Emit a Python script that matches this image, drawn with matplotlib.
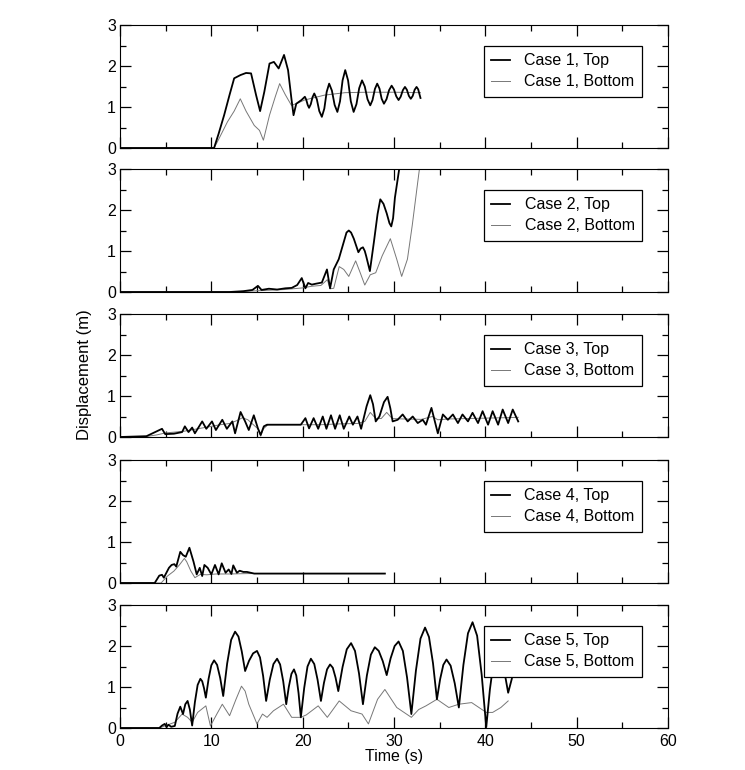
import matplotlib
matplotlib.use("Agg")
import matplotlib.pyplot as plt
from matplotlib.ticker import MultipleLocator

plt.rcParams['font.family'] = ['Liberation Sans', 'DejaVu Sans']

# ---------------- data ----------------
case_names = ["Case 1", "Case 2", "Case 3", "Case 4", "Case 5"]
x_ticks = [0, 10, 20, 30, 40, 50, 60]
y_ticks = [0, 1, 2, 3]

c1_top_t = [0, 10.3, 10.8, 11.4, 12.0, 12.5, 13.2, 13.8, 14.35, 14.9, 15.34, 15.8, 16.37, 16.85, 17.37,
            17.96, 18.4, 18.77, 19.0, 19.3, 19.87, 20.24, 20.39, 20.55, 20.7, 20.89, 21.08, 21.27,
            21.55, 21.82, 22.1, 22.37, 22.63, 22.9, 23.2, 23.5, 23.8, 24.09, 24.37, 24.66,
            24.97, 25.27, 25.58, 25.89, 26.19, 26.5, 26.8, 27.1, 27.4, 27.65, 27.91, 28.16,
            28.41, 28.65, 28.9, 29.18, 29.46, 29.74, 29.99, 30.25, 30.5, 30.73, 30.97, 31.2,
            31.41, 31.63, 31.84, 32.05, 32.26, 32.47, 32.65, 32.8, 32.9]
c1_top_v = [0, 0, 0.35, 0.8, 1.3, 1.7, 1.78, 1.83, 1.82, 1.29, 0.9, 1.37, 2.06, 2.1, 1.94,
            2.27, 1.9, 1.2, 0.8, 1.08, 1.17, 1.25, 1.18, 1.05, 0.98, 1.07, 1.24, 1.33,
            1.19, 0.9, 0.76, 0.96, 1.37, 1.57, 1.4, 1.05, 0.88, 1.14, 1.65, 1.9,
            1.65, 1.14, 0.88, 1.07, 1.46, 1.65, 1.5, 1.19, 1.04, 1.17, 1.44, 1.57,
            1.45, 1.2, 1.08, 1.19, 1.41, 1.52, 1.43, 1.26, 1.17, 1.25, 1.41, 1.49,
            1.42, 1.27, 1.2, 1.27, 1.42, 1.49, 1.43, 1.3, 1.22]
c1_bot_t = [0, 10.3, 10.66, 11.77, 12.5, 13.17, 13.8, 14.7, 15.27, 15.7, 16.37, 17.0, 17.48, 18.1,
            18.77, 19.5, 20.2, 22.4, 24.66, 27.0, 30.0, 32.9]
c1_bot_v = [0, 0, 0.15, 0.64, 0.9, 1.2, 0.9, 0.55, 0.43, 0.19, 0.8, 1.25, 1.57, 1.3,
            1.04, 1.1, 1.17, 1.29, 1.35, 1.36, 1.36, 1.35]

c2_top_t = [0, 12, 13.5, 14.5, 15.1, 15.5, 16.3, 17.2, 18.1, 18.8, 19.4, 19.9, 20.3, 20.6, 21.0, 21.4,
            22.1, 22.66, 23.0, 23.4, 23.95, 24.5, 24.8, 25.05, 25.3, 25.6, 26.1, 26.35, 26.6, 26.8,
            26.95, 27.36, 27.8, 28.2, 28.5, 28.85, 29.2, 29.5, 29.7, 29.9, 30.1, 30.55, 30.9]
c2_top_v = [0, 0, 0.02, 0.05, 0.15, 0.05, 0.08, 0.06, 0.09, 0.1, 0.17, 0.34, 0.09, 0.22, 0.18, 0.2,
            0.23, 0.55, 0.09, 0.55, 0.8, 1.22, 1.45, 1.5, 1.45, 1.3, 0.97, 1.06, 1.09, 1.0,
            0.88, 0.51, 1.22, 1.9, 2.26, 2.15, 1.92, 1.68, 1.6, 1.8, 2.3, 2.97, 3.4]
c2_bot_t = [0, 12, 14, 16, 18, 20, 21, 22, 22.7, 23.0, 23.4, 24.0, 24.5, 25.05, 25.8, 26.3, 26.8,
            27.4, 28.0, 28.7, 29.6, 30.3, 30.84, 31.47, 32.0, 32.57, 32.9]
c2_bot_v = [0, 0, 0.02, 0.04, 0.06, 0.1, 0.14, 0.16, 0.3, 0.08, 0.09, 0.62, 0.55, 0.38, 0.76, 0.47, 0.17,
            0.42, 0.47, 0.88, 1.3, 0.8, 0.38, 0.8, 1.63, 2.63, 3.2]

c3_top_t = [0, 2.9, 4.6, 4.95, 5.9, 6.8, 7.1, 7.5, 7.9, 8.2, 9.0, 9.45, 10.07, 10.5, 11.2, 11.7, 12.3,
            12.6, 13.2, 13.7, 14.1, 14.65, 15.1, 15.4, 15.75, 16.1, 18.3, 19.8, 20.3, 20.7, 21.2, 21.7,
            22.2, 22.6, 23.1, 23.55, 24.06, 24.5, 25.1, 25.5, 26.0, 26.4, 27.0, 27.4, 27.7, 28.0,
            28.4, 28.9, 29.3, 29.6, 29.85, 30.4, 30.95, 31.5, 32.05, 32.6, 33.15, 33.5, 34.1, 34.8,
            35.35, 35.9, 36.45, 37.0, 37.5, 38.1, 38.6, 39.2, 39.7, 40.3, 40.8, 41.4, 41.9, 42.5,
            43.0, 43.6]
c3_top_v = [0, 0.02, 0.2, 0.07, 0.08, 0.12, 0.26, 0.12, 0.23, 0.09, 0.38, 0.2, 0.38, 0.17, 0.42, 0.2, 0.38,
            0.09, 0.61, 0.38, 0.17, 0.53, 0.21, 0.05, 0.26, 0.3, 0.3, 0.3, 0.46, 0.21, 0.46, 0.2,
            0.5, 0.2, 0.53, 0.2, 0.53, 0.2, 0.5, 0.3, 0.5, 0.2, 0.75, 1.02, 0.8, 0.38,
            0.5, 0.85, 0.98, 0.7, 0.38, 0.42, 0.55, 0.38, 0.5, 0.34, 0.42, 0.3, 0.71, 0.09,
            0.55, 0.42, 0.55, 0.34, 0.55, 0.38, 0.59, 0.34, 0.63, 0.3, 0.63, 0.3, 0.67, 0.34,
            0.67, 0.38]
c3_bot_t = [0, 2.5, 4, 5, 6, 7, 8, 9, 10, 11, 12, 12.8, 13.4, 14, 14.6, 15.1, 15.4, 15.7, 16.2, 19, 22,
            24, 26, 26.8, 27.4, 28.0, 28.6, 29.2, 29.8, 31, 33, 34.2, 34.8, 36, 38, 40, 42, 43.6]
c3_bot_v = [0, 0, 0.05, 0.1, 0.12, 0.14, 0.18, 0.22, 0.26, 0.3, 0.33, 0.4, 0.47, 0.42, 0.3, 0.2, 0.02,
            0.2, 0.3, 0.3, 0.3, 0.32, 0.33, 0.38, 0.6, 0.45, 0.45, 0.6, 0.45, 0.44, 0.43, 0.5, 0.42,
            0.44, 0.45, 0.46, 0.47, 0.48]

c4_top_t = [0, 3.8, 4.3, 4.6, 4.8, 5.36, 5.65, 5.95, 6.16, 6.6, 6.9, 7.2, 7.6, 8.05, 8.4, 8.73, 9.0, 9.24,
            9.6, 10.0, 10.4, 10.8, 11.14, 11.56, 11.9, 12.2, 12.4, 12.8, 13.1, 13.5, 13.9, 14.7, 29.0]
c4_top_v = [0, 0, 0.18, 0.2, 0.13, 0.37, 0.44, 0.46, 0.4, 0.76, 0.68, 0.64, 0.86, 0.52, 0.21, 0.37, 0.17,
            0.44, 0.37, 0.21, 0.44, 0.21, 0.48, 0.25, 0.33, 0.22, 0.43, 0.25, 0.3, 0.27, 0.27, 0.23, 0.23]
c4_bot_t = [0, 4.5, 5.2, 5.9, 6.5, 7.05, 7.3, 7.76, 8.2, 8.8, 9.5, 10.5, 12, 14, 29.0]
c4_bot_v = [0, 0, 0.17, 0.29, 0.44, 0.6, 0.52, 0.29, 0.13, 0.21, 0.2, 0.22, 0.22, 0.23, 0.23]

c5_top_t = [0, 4.3, 4.6, 4.9, 5.1, 5.3, 5.6, 6.0, 6.3, 6.6, 6.9, 7.15, 7.4, 7.65, 7.9,
            8.2, 8.5, 8.8, 9.0, 9.2, 9.4, 9.7, 10.0, 10.3, 10.63, 10.97, 11.3,
            11.73, 12.17, 12.6, 12.97, 13.33, 13.7, 14.13, 14.57, 15.0, 15.33, 15.67, 16.0,
            16.4, 16.8, 17.2, 17.53, 17.87, 18.2, 18.48, 18.77, 19.05, 19.3, 19.55, 19.8,
            20.17, 20.53, 20.9, 21.27, 21.63, 22.0, 22.33, 22.67, 23.0, 23.3, 23.6, 23.9,
            24.37, 24.83, 25.3, 25.73, 26.17, 26.6, 27.03, 27.47, 27.9, 28.33, 28.77, 29.2,
            29.63, 30.07, 30.5, 30.97, 31.43, 31.9, 32.4, 32.9, 33.4, 33.83, 34.27, 34.7,
            35.05, 35.4, 35.75, 36.2, 36.65, 37.1, 37.6, 38.1, 38.6, 39.1, 39.6, 40.1,
            40.5, 40.9, 41.3, 41.7, 42.1, 42.5, 42.9]
c5_top_v = [0, 0, 0.06, 0.1, 0.02, 0.08, 0.03, 0.05, 0.35, 0.52, 0.34, 0.58, 0.66, 0.45, 0.06,
            0.63, 1.05, 1.2, 1.14, 0.97, 0.74, 1.2, 1.53, 1.65, 1.54, 1.22, 0.78,
            1.57, 2.15, 2.35, 2.23, 1.87, 1.39, 1.64, 1.82, 1.88, 1.72, 1.27, 0.66,
            1.18, 1.56, 1.69, 1.55, 1.14, 0.58, 1.0, 1.32, 1.43, 1.28, 0.85, 0.26,
            0.98, 1.5, 1.69, 1.56, 1.18, 0.66, 1.1, 1.43, 1.55, 1.47, 1.23, 0.9,
            1.49, 1.92, 2.07, 1.88, 1.33, 0.58, 1.28, 1.79, 1.97, 1.88, 1.63, 1.29,
            1.7, 2.0, 2.11, 1.88, 1.23, 0.34, 1.4, 2.18, 2.45, 2.22, 1.58, 0.7,
            1.19, 1.54, 1.67, 1.52, 1.09, 0.5, 1.54, 2.31, 2.58, 2.25, 1.3, 0.02,
            0.94, 1.61, 1.85, 1.72, 1.36, 0.86, 1.2]
c5_bot_t = [0, 4.3, 4.9, 6.0, 6.8, 7.4, 7.9, 8.5, 9.4, 9.9, 10.6, 11.2, 12.0, 12.7, 13.3, 13.7, 14.1,
            15.0, 15.6, 16.1, 16.8, 17.9, 18.8, 19.8, 20.4, 21.7, 22.7, 24.0, 25.3, 26.5, 27.2, 28.2,
            29.0, 30.3, 31.9, 32.7, 33.5, 34.7, 36.0, 37.1, 38.5, 40.1, 40.8, 41.7, 42.5]
c5_bot_v = [0, 0, 0.05, 0.14, 0.34, 0.26, 0.14, 0.38, 0.54, 0.05, 0.34, 0.58, 0.3, 0.7, 1.02, 0.9, 0.58,
            0.1, 0.34, 0.26, 0.42, 0.58, 0.26, 0.26, 0.32, 0.54, 0.26, 0.66, 0.42, 0.34, 0.1, 0.7,
            0.94, 0.5, 0.26, 0.45, 0.54, 0.7, 0.5, 0.58, 0.62, 0.38, 0.38, 0.5, 0.66]

top_t = [c1_top_t, c2_top_t, c3_top_t, c4_top_t, c5_top_t]
top_v = [c1_top_v, c2_top_v, c3_top_v, c4_top_v, c5_top_v]
bot_t = [c1_bot_t, c2_bot_t, c3_bot_t, c4_bot_t, c5_bot_t]
bot_v = [c1_bot_v, c2_bot_v, c3_bot_v, c4_bot_v, c5_bot_v]

# ---------------- figure ----------------
W, H = 745, 770
fig = plt.figure(figsize=(W / 100, H / 100), dpi=100, facecolor='white')

left_px, right_px = 120, 668
bottoms_px = [148, 292, 437, 583, 728]
height_px = 123

axes = []
for i in range(5):
    b = bottoms_px[i]
    ax = fig.add_axes([left_px / W, 1 - b / H, (right_px - left_px) / W, height_px / H])
    axes.append(ax)
    ax.plot(bot_t[i], bot_v[i], color='#777777', lw=0.7, label=f"{case_names[i]}, Bottom", zorder=2)
    ax.plot(top_t[i], top_v[i], color='black', lw=1.3, label=f"{case_names[i]}, Top", zorder=3)
    ax.set_xlim(0, 60)
    ax.set_ylim(0, 3)
    ax.set_xticks(x_ticks)
    ax.set_yticks(y_ticks)
    ax.xaxis.set_minor_locator(MultipleLocator(5))
    ax.yaxis.set_minor_locator(MultipleLocator(0.5))
    ax.tick_params(which='both', direction='in', top=True, right=True, width=0.9)
    ax.tick_params(which='major', length=8)
    ax.tick_params(which='minor', length=4)
    ax.tick_params(axis='y', labelsize=11.5, pad=3)
    ax.tick_params(axis='x', labelsize=11.5, pad=4)
    if i < 4:
        ax.tick_params(axis='x', labelbottom=False)
    handles, labels = ax.get_legend_handles_labels()
    leg = ax.legend(handles[::-1], labels[::-1], loc='upper right', bbox_to_anchor=(0.952, 0.83),
                    fontsize=11.5, frameon=True, fancybox=False, framealpha=1, edgecolor='black',
                    borderpad=0.45, labelspacing=0.4, handlelength=1.2,
                    handletextpad=0.9, borderaxespad=0)
    leg.get_frame().set_linewidth(0.9)

axes[-1].set_xlabel("Time (s)", fontsize=11.5, labelpad=0)
fig.text(85 / W, 1 - 375 / H, "Displacement (m)", rotation=90, ha='center', va='center', fontsize=12)

fig.savefig("out.png", dpi=100, facecolor='white')
